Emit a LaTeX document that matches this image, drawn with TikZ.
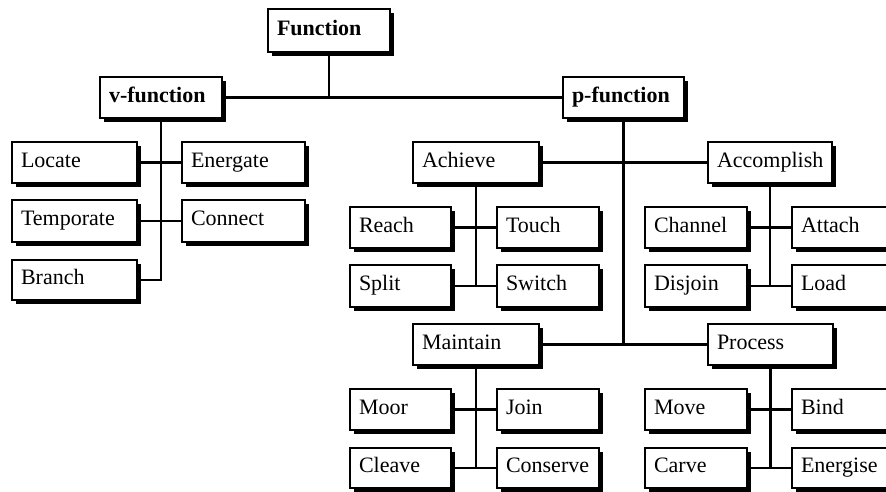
\documentclass[tikz,border=0pt]{standalone}
\usepackage{fontspec}
\setmainfont{Liberation Serif}
\usetikzlibrary{shadows}
\tikzset{
  fbx/.style={draw, line width=2.2pt, fill=white, rectangle, inner xsep=9pt, inner ysep=0pt,
    text height=14pt, text depth=5pt, align=left,
    font=\fontsize{22}{24}\selectfont,
    drop shadow={shadow xshift=4pt, shadow yshift=-4pt, fill=black, opacity=1}},
  boldtxt/.style={font=\fontsize{22}{24}\selectfont\bfseries},
  link/.style={line width=2.5pt}
}
\newcommand\fbnode[7][]{%
  \pgfmathsetmacro\fbw{#5-#3}%
  \pgfmathsetmacro\fbh{#6-#4}%
  \pgfmathsetmacro\fbt{#5-#3-18}%
  \pgfmathsetmacro\fbx{(#3+#5)/2}%
  \pgfmathsetmacro\fby{(#4+#6)/2}%
  \node[fbx,minimum width=\fbw pt,minimum height=\fbh pt,text width=\fbt pt,#1] (#2) at (\fbx,\fby) {#7};}
\begin{document}
\begin{tikzpicture}[x=1pt,y=-1pt]
\useasboundingbox (0,0) rectangle (886,491);
\fill[white] (0,0) rectangle (886,491);
% boxes
\fbnode[boldtxt]{Function}{268}{9}{390}{52}{Function}
\fbnode[boldtxt]{vf}{100}{77}{222}{118}{v-function}
\fbnode[boldtxt]{pf}{563}{77}{684}{118}{p-function}
\fbnode{Locate}{12}{142}{137}{183}{Locate}
\fbnode{Temporate}{12}{200}{137}{242}{Temporate}
\fbnode{Branch}{12}{260}{137}{300}{Branch}
\fbnode{Energate}{182}{142}{305}{183}{Energate}
\fbnode{Connect}{182}{200}{305}{242}{Connect}
\fbnode{Achieve}{413}{142}{539}{183}{Achieve}
\fbnode{Accomplish}{708}{142}{832}{183}{Accomplish}
\fbnode{Reach}{350}{207}{451}{248}{Reach}
\fbnode{Touch}{497}{207}{599}{248}{Touch}
\fbnode{Split}{350}{265}{451}{307}{Split}
\fbnode{Switch}{497}{265}{599}{307}{Switch}
\fbnode{Channel}{645}{207}{747}{248}{Channel}
\fbnode{Attach}{792}{207}{895}{248}{Attach}
\fbnode{Disjoin}{645}{265}{747}{307}{Disjoin}
\fbnode{Load}{792}{265}{895}{307}{Load}
\fbnode{Maintain}{413}{324}{539}{365}{Maintain}
\fbnode{Process}{708}{324}{833}{365}{Process}
\fbnode{Moor}{350}{389}{451}{430}{Moor}
\fbnode{Join}{497}{389}{599}{430}{Join}
\fbnode{Cleave}{350}{448}{451}{488}{Cleave}
\fbnode{Conserve}{497}{448}{599}{488}{Conserve}
\fbnode{Move}{645}{389}{747}{430}{Move}
\fbnode{Bind}{792}{389}{895}{430}{Bind}
\fbnode{Carve}{645}{448}{747}{488}{Carve}
\fbnode{Energise}{792}{448}{895}{488}{Energise}
% connectors
\draw[link] (Function.south) -- (Function.south |- vf.east);
\draw[link] (vf.east) -- (pf.west);
\draw[link] (vf.south) -- (vf.south |- Branch.east) -- (Branch.east);
\draw[link] (Locate.east) -- (Energate.west);
\draw[link] (Temporate.east) -- (Connect.west);
\draw[link] (pf.south) -- (pf.south |- Maintain.east);
\draw[link] (Achieve.east) -- (Accomplish.west);
\draw[link] (Maintain.east) -- (Process.west);
\draw[link] (Achieve.south) -- (Achieve.south |- Split.east);
\draw[link] (Reach.east) -- (Touch.west);
\draw[link] (Split.east) -- (Switch.west);
\draw[link] (Accomplish.south) -- (Accomplish.south |- Disjoin.east);
\draw[link] (Channel.east) -- (Attach.west);
\draw[link] (Disjoin.east) -- (Load.west);
\draw[link] (Maintain.south) -- (Maintain.south |- Cleave.east);
\draw[link] (Moor.east) -- (Join.west);
\draw[link] (Cleave.east) -- (Conserve.west);
\draw[link] (Process.south) -- (Process.south |- Carve.east);
\draw[link] (Move.east) -- (Bind.west);
\draw[link] (Carve.east) -- (Energise.west);
\end{tikzpicture}
\end{document}
